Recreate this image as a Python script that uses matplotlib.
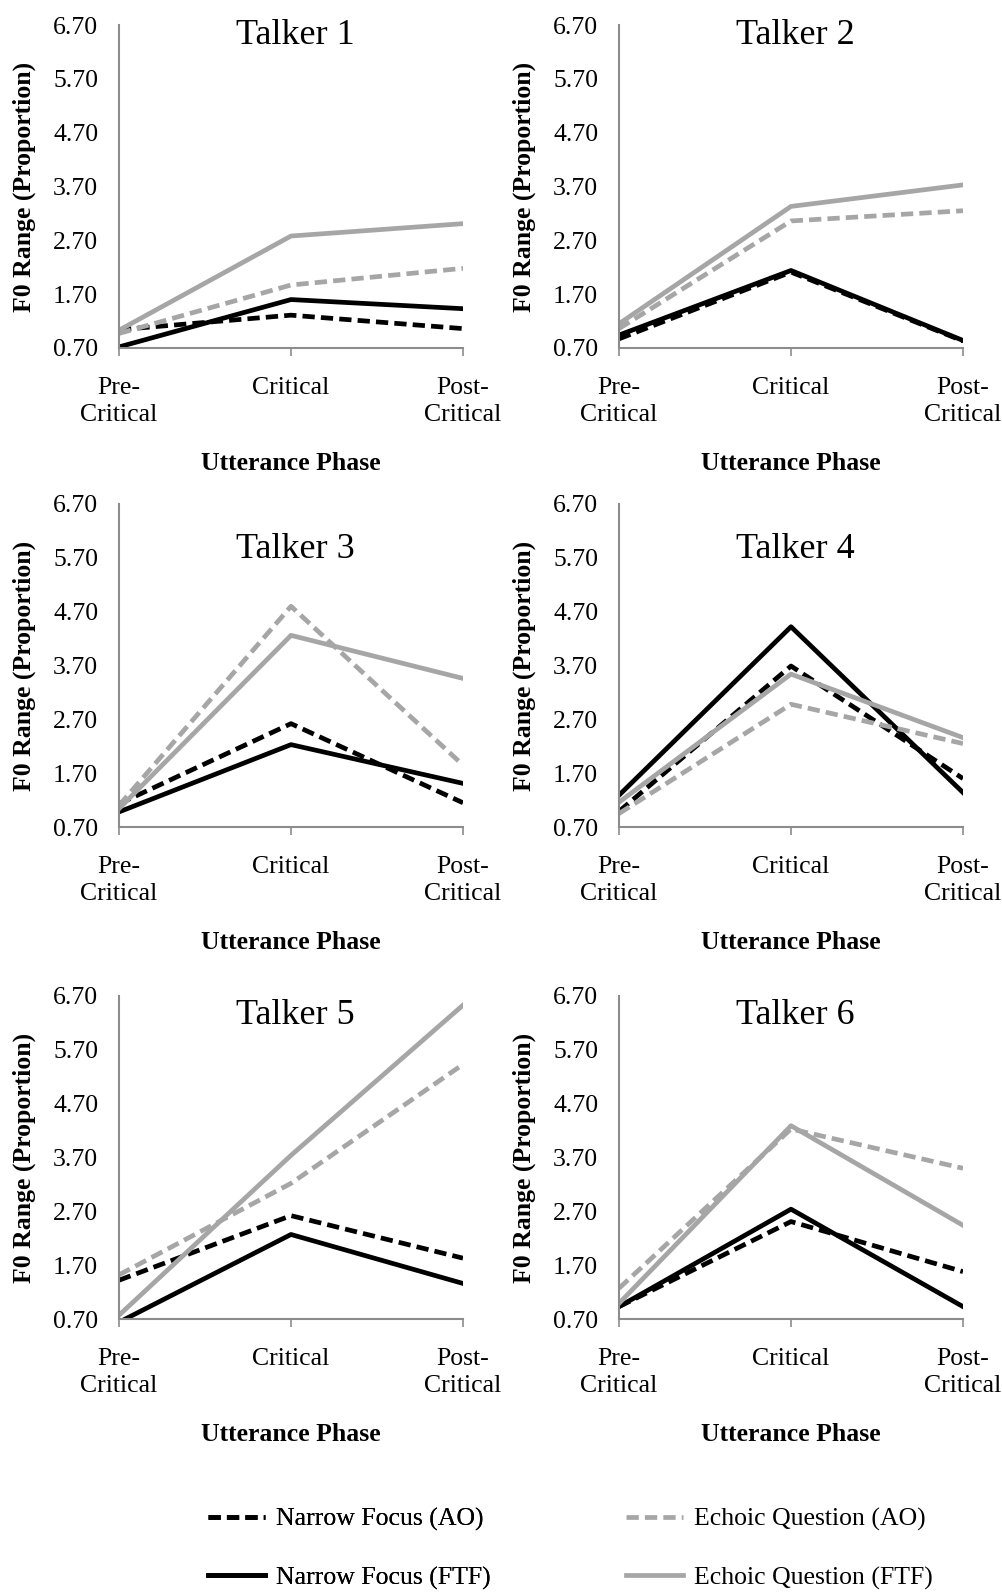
import numpy as np
import matplotlib.pyplot as plt

plt.rcParams['font.family'] = ['Liberation Serif', 'DejaVu Serif']

phases = ['Pre-\nCritical', 'Critical', 'Post-\nCritical']
talkers = ['Talker 1', 'Talker 2', 'Talker 3', 'Talker 4', 'Talker 5', 'Talker 6']
series_names = ['Narrow Focus (AO)', 'Narrow Focus (FTF)',
                'Echoic Question (AO)', 'Echoic Question (FTF)']

# F0 range per talker: pre-critical, critical, post-critical
narrow_ao = [
    [1.04, 1.31, 1.06],
    [0.87, 2.11, 0.83],
    [1.13, 2.62, 1.15],
    [0.99, 3.69, 1.60],
    [1.42, 2.62, 1.83],
    [0.93, 2.51, 1.58],
]
narrow_ftf = [
    [0.72, 1.60, 1.43],
    [0.94, 2.14, 0.84],
    [0.98, 2.23, 1.51],
    [1.29, 4.42, 1.34],
    [0.64, 2.27, 1.36],
    [0.93, 2.74, 0.93],
]
echoic_ao = [
    [0.97, 1.87, 2.18],
    [1.06, 3.06, 3.25],
    [1.10, 4.80, 1.85],
    [0.95, 2.98, 2.25],
    [1.52, 3.22, 5.43],
    [1.27, 4.23, 3.50],
]
echoic_ftf = [
    [1.03, 2.78, 3.01],
    [1.15, 3.33, 3.73],
    [1.04, 4.26, 3.46],
    [1.16, 3.54, 2.36],
    [0.77, 3.74, 6.53],
    [0.99, 4.29, 2.44],
]

yticks = [0.70, 1.70, 2.70, 3.70, 4.70, 5.70, 6.70]

black = '#000000'
grey = '#a6a6a6'
axis_grey = '#8c8c8c'
lw = 3.4
dash = (2.6, 1.3)
fs = 18.5

W, H = 1003, 1593
fig = plt.figure(figsize=(W / 100, H / 100), dpi=100)

lefts = [119, 619]
tops = [25, 504, 996]
ax_w, ax_h = 344, 323
title_y = [35, 549, 1015]

handles = []
for i, name in enumerate(talkers):
    r, c = divmod(i, 2)
    ax = fig.add_axes([lefts[c] / W, 1 - (tops[r] + ax_h) / H, ax_w / W, ax_h / H])
    x = np.arange(3)
    h1, = ax.plot(x, narrow_ao[i], color=black, lw=lw, dashes=dash)
    h2, = ax.plot(x, narrow_ftf[i], color=black, lw=lw)
    h3, = ax.plot(x, echoic_ao[i], color=grey, lw=lw, dashes=dash)
    h4, = ax.plot(x, echoic_ftf[i], color=grey, lw=lw)
    if i == 0:
        handles = [h1, h2, h3, h4]

    ax.set_xlim(0, 2)
    ax.set_ylim(0.70, 6.70)
    ax.set_yticks(yticks)
    ax.set_yticklabels(['%.2f' % v for v in yticks], fontsize=fs)
    ax.set_xticks(x)
    ax.set_xticklabels(phases, fontsize=fs, linespacing=1.3)
    ax.tick_params(axis='y', length=0, pad=15)
    ax.tick_params(axis='x', length=6, width=1.2, color=axis_grey, pad=15)
    for s in ['top', 'right']:
        ax.spines[s].set_visible(False)
    for s in ['left', 'bottom']:
        ax.spines[s].set_color(axis_grey)
        ax.spines[s].set_linewidth(1.5)

    ax.set_ylabel('F0 Range (Proportion)', fontsize=fs, fontweight='bold')
    ax.yaxis.set_label_coords(-(119 - 36) / ax_w, 0.5)
    ax.set_xlabel('Utterance Phase', fontsize=fs, fontweight='bold')
    ax.xaxis.set_label_coords(0.5, -(452 - 348) / ax_h)
    fig.text((lefts[c] + 176) / W, 1 - title_y[r] / H, name, fontsize=26,
             ha='center', va='center')

# two legend columns below the panels
leg_kw = dict(loc='upper left', frameon=False, fontsize=fs, handlelength=2.2,
              handletextpad=0.45, labelspacing=1.35, borderpad=0, borderaxespad=0)
leg1 = fig.legend(handles[:2], series_names[:2], bbox_to_anchor=(208 / W, 1 - 1508 / H), **leg_kw)
fig.add_artist(leg1)
fig.legend(handles[2:], series_names[2:], bbox_to_anchor=(626 / W, 1 - 1508 / H), **leg_kw)

fig.savefig('out.png', dpi=100)
